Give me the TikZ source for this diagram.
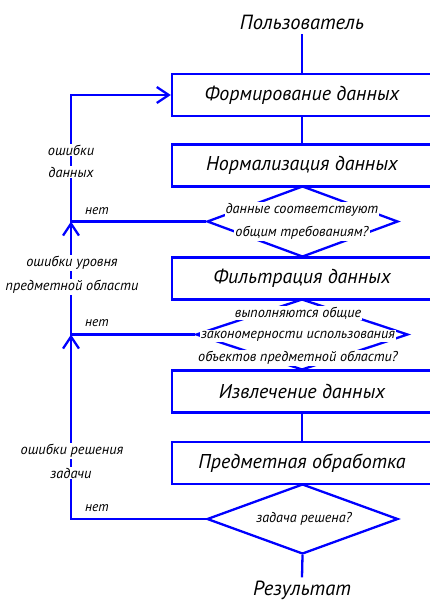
\documentclass[tikz,border=0pt]{standalone}
\usepackage{fontspec}
\setmainfont{PT Sans}
\usetikzlibrary{arrows.meta}
\usetikzlibrary{shapes.geometric}
\usetikzlibrary{positioning}

\tikzset{
  flow/.style={draw=blue, line width=2.3pt},
  back/.style={-{Straight Barb[length=12pt, width=16pt]}},
  block/.style={flow, rectangle, minimum width=260pt, minimum height=42pt, inner sep=0pt,
    font=\fontsize{20}{23}\itshape\selectfont},
  decision/.style={flow, diamond, inner sep=0pt},
  term/.style={inner sep=5pt, font=\fontsize{20.5}{23}\itshape\selectfont},
  cond/.style={fill=white, inner sep=1pt, font=\fontsize{14.2}{16}\itshape\selectfont},
  errlbl/.style={fill=white, inner sep=1pt, font=\fontsize{14.3}{16}\itshape\selectfont},
  nolbl/.style={inner sep=0pt, font=\fontsize{13.5}{16}\itshape\selectfont},
}

\begin{document}
\begin{tikzpicture}[x=1pt, y=-1pt, line join=miter]
  \useasboundingbox (0,0) rectangle (429,602);
  %--- main chain
    \node[term] (user) at (302, 22) {Пользователь};
    \node[block] (form) at (302, 95) {Формирование данных};
    \node[block] (norm) at (302, 165.5) {Нормализация данных};
    \node[decision, minimum width=191pt, minimum height=71pt] (chk1) at (302.5, 221.5) {};
    \node[block] (filt) at (302, 278.5) {Фильтрация данных};
    \node[decision, minimum width=212pt, minimum height=71pt] (chk2) at (302, 334.5) {};
    \node[block] (extr) at (302, 391.5) {Извлечение данных};
    \node[block] (proc) at (302, 463) {Предметная обработка};
    \node[decision, minimum width=191pt, minimum height=70pt] (chk3) at (302.5, 519) {};
    \node[term, inner sep=3pt] (result) at (302, 590) {Результат};
    \draw[flow] (user.south) -- (form.north);
    \draw[flow] (form.south) -- (norm.north);
    \draw[flow] (extr.south) -- (proc.north);
    \draw[flow] (chk3.south) -- (result.north);
  %--- conditions
    \node[cond] (c1a) at (302, 210) {данные соответствуют};
    \node[cond] (c1b) at (302, 233) {общим требованиям?};
    \node[cond] (c2a) at (298, 313) {выполняются общие};
    \node[cond] (c2b) at (298, 336) {закономерности использования};
    \node[cond] (c2c) at (298, 358) {объектов предметной области?};
    \node[cond] (c3a) at (304, 519) {задача решена?};
  %--- return rail
    \coordinate (rail) at (71, 0);
    \draw[flow, back] (chk3.west) -- (chk3.west -| rail) -- (chk2.west -| rail);
    \draw[flow, back] (chk2.west) -- (chk2.west -| rail) -- (chk1.west -| rail);
    \draw[flow, back] (chk1.west) -- (chk1.west -| rail) |- (form.west);
    \node[nolbl] (no1) at (97, 211) {нет};
    \node[nolbl] (no2) at (97, 323) {нет};
    \node[nolbl] (no3) at (97, 508) {нет};
    \node[errlbl] (e1a) at (71, 150) {ошибки};
    \node[errlbl] (e1b) at (71, 172) {данных};
    \node[errlbl] (e2a) at (72, 263) {ошибки уровня};
    \node[errlbl] (e2b) at (72, 287) {предметной области};
    \node[errlbl] (e3a) at (72, 451) {ошибки решения};
    \node[errlbl] (e3b) at (71, 473) {задачи};
\end{tikzpicture}
\end{document}
